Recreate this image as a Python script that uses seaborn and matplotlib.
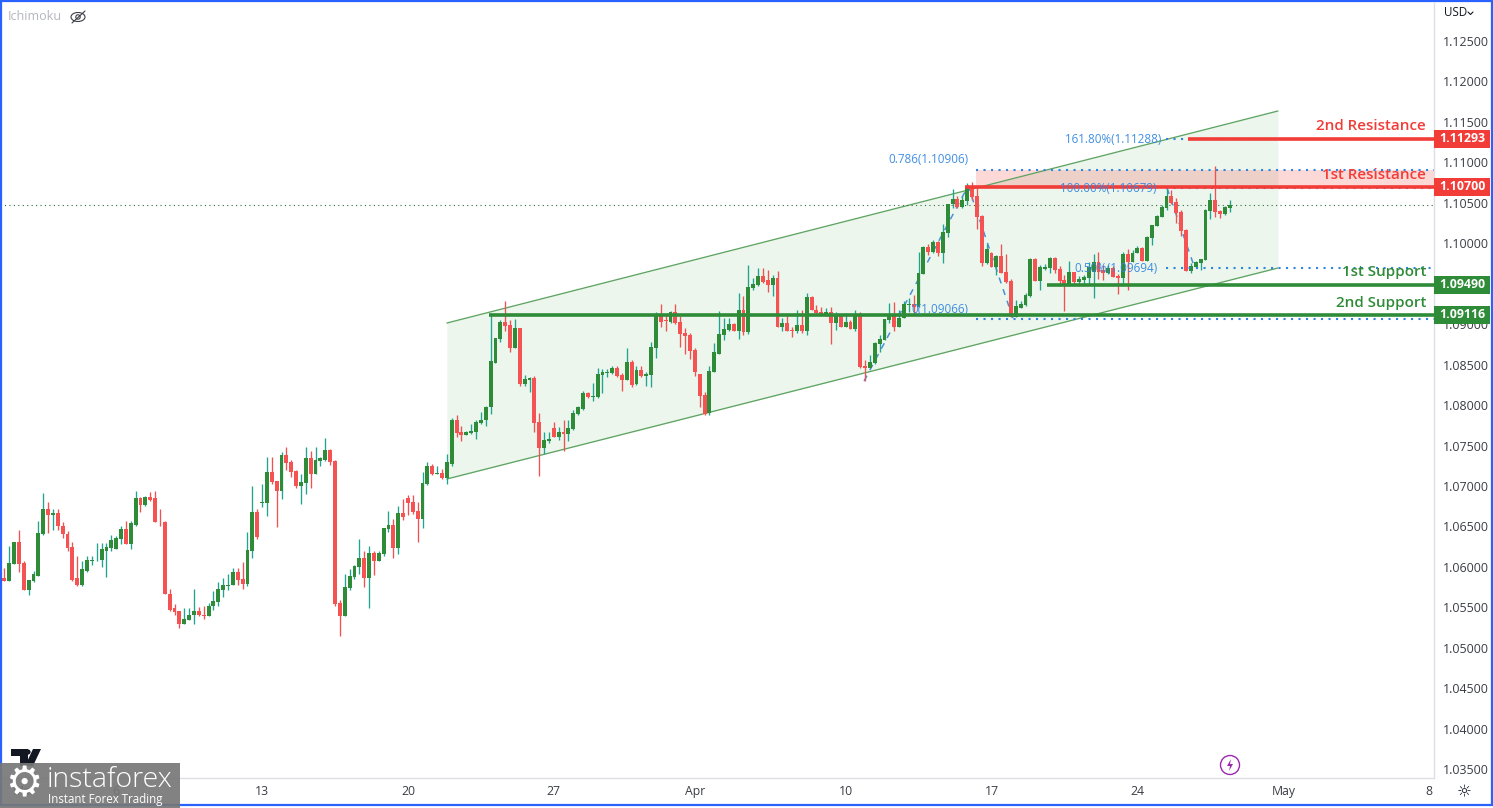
import numpy as np
import pandas as pd
import seaborn as sns
import matplotlib
matplotlib.use('Agg')
import matplotlib.pyplot as plt
from matplotlib.patches import Rectangle, Circle, Ellipse, Polygon
from matplotlib.lines import Line2D
from matplotlib.transforms import Affine2D, blended_transform_factory

# H4 candles, in pips above 1.0000
open_pips = [
    586,583,604,631,605,571,583,589,641,671,
    664,666,651,641,624,586,578,595,607,608,
    608,620,623,622,635,647,628,652,685,677,
    686,685,656,656,567,549,545,529,534,540,
    545,541,539,551,557,572,576,577,594,585,
    579,620,668,679,679,717,706,694,738,730,
    719,700,704,735,715,731,732,745,731,555,
    539,574,587,600,611,586,617,607,616,647,
    652,623,667,685,680,669,659,703,725,715,
    716,710,727,781,767,763,766,767,778,781,
    797,852,882,903,899,871,895,826,831,834,
    779,747,756,772,760,767,764,771,789,795,
    815,810,810,837,840,840,846,837,831,853,
    826,843,836,837,871,910,905,903,915,903,
    889,887,868,839,813,790,841,863,887,893,
    900,892,917,890,945,949,960,954,949,957,
    896,902,893,891,899,891,934,918,915,912,
    915,902,910,897,903,894,912,848,846,852,
    876,881,905,912,896,908,924,925,921,962,
    996,989,1002,988,1013,1048,1055,1045,1052,1070,
    1059,1034,975,988,971,984,965,953,909,920,
    924,935,981,953,968,970,982,968,955,949,
    965,952,955,957,965,977,967,963,969,960,
    957,987,977,988,994,978,1007,1021,1033,1044,
    1059,1051,1039,1016,966,971,976,979,1040,1054,
    1040,1036,1044]
high_pips = [
    598,626,631,645,607,584,595,657,691,680,
    671,672,656,644,631,614,607,614,614,629,
    629,629,639,638,650,657,657,694,686,688,
    693,694,672,657,573,554,546,549,549,573,
    550,552,555,570,581,586,591,599,598,606,
    643,700,672,703,736,736,706,742,748,732,
    720,715,748,743,748,736,759,746,732,559,
    591,597,602,634,620,626,620,620,648,669,
    659,675,684,689,689,680,717,730,727,725,
    721,739,784,788,774,768,776,782,792,799,
    912,883,905,929,905,907,895,837,835,836,
    790,767,767,779,773,782,782,794,799,818,
    816,827,846,845,845,848,848,840,871,856,
    848,848,841,878,915,925,913,916,925,910,
    895,889,871,839,816,848,877,916,908,908,
    901,938,935,973,957,970,969,967,961,966,
    908,910,896,917,917,938,935,924,921,920,
    921,915,911,914,905,917,915,856,862,878,
    887,907,926,928,917,929,932,936,989,997,
    999,1004,1003,1024,1049,1067,1059,1059,1075,1076,
    1071,1035,999,989,985,999,987,956,930,929,
    939,982,982,973,974,983,983,972,961,978,
    965,960,961,977,987,989,973,973,972,962,
    989,993,992,997,995,1009,1023,1035,1047,1067,
    1066,1056,1041,1018,976,978,981,1042,1062,1096,
    1041,1046,1054]
low_pips = [
    582,582,604,594,571,565,581,589,639,642,
    646,646,636,619,582,576,576,594,602,607,
    600,588,619,622,628,628,622,650,668,675,
    681,655,650,566,546,541,524,529,534,529,
    539,536,539,547,552,563,572,577,578,573,
    576,611,635,674,663,703,649,684,720,711,
    697,678,690,697,715,725,731,726,552,515,
    539,571,585,591,575,549,590,607,614,643,
    611,616,658,664,665,631,648,701,714,715,
    709,703,725,760,756,763,764,758,776,774,
    789,852,878,891,866,871,824,824,816,767,
    712,740,753,760,757,743,756,769,788,794,
    809,805,809,815,835,838,835,817,831,822,
    825,835,824,822,858,897,892,902,900,872,
    863,857,836,798,788,788,841,863,880,891,
    891,882,887,888,942,947,951,940,935,896,
    891,892,884,889,889,886,917,913,912,910,
    876,893,896,897,894,891,846,830,846,851,
    866,881,902,892,896,908,915,911,921,962,
    986,988,984,976,1008,1043,1044,1044,1047,1054,
    1018,972,974,971,961,963,951,909,909,920,
    923,934,953,942,967,963,963,947,916,947,
    950,947,950,948,932,956,955,962,958,937,
    950,942,977,988,978,978,998,1021,1033,1041,
    1049,1025,1009,966,963,969,967,979,1030,1033,
    1031,1035,1039]
close_pips = [
    583,605,631,604,571,584,591,642,671,664,
    666,650,640,623,584,578,597,608,609,609,
    622,624,633,636,647,628,654,685,677,686,
    683,655,655,566,547,544,529,535,541,545,
    540,539,552,558,573,577,578,594,584,579,
    621,668,637,680,717,705,694,738,728,717,
    700,705,735,715,732,734,745,730,554,539,
    575,589,601,611,586,617,607,617,648,652,
    623,667,662,679,668,659,704,725,715,716,
    710,729,781,766,763,767,768,779,782,798,
    854,883,903,898,871,895,826,832,834,778,
    747,757,758,760,767,764,772,790,797,815,
    810,811,838,841,841,846,836,831,853,825,
    843,836,838,872,910,903,904,915,902,888,
    885,867,841,811,789,842,865,888,894,900,
    892,917,890,946,950,960,952,949,957,896,
    902,892,891,899,891,934,917,914,913,915,
    902,912,897,903,894,912,847,846,853,877,
    882,907,910,896,908,925,925,921,963,996,
    989,1002,988,1014,1049,1055,1045,1054,1070,1057,
    1033,976,993,971,984,963,952,909,923,925,
    936,981,953,971,971,982,967,953,947,965,
    952,956,958,971,977,965,963,969,958,957,
    987,977,988,994,978,1008,1023,1034,1045,1059,
    1050,1037,1015,966,972,977,981,1041,1054,1039,
    1036,1045,1047]

# axis ticks
x_tick_pos = [4, 23, 53, 83, 113, 142, 173, 203, 233, 263, 293]
x_tick_labels = ['Mar', '6', '13', '20', '27', 'Apr', '10', '17', '24', 'May', '8']
y_ticks = [1.035, 1.04, 1.045, 1.05, 1.055, 1.06, 1.065, 1.07, 1.075, 1.08,
           1.085, 1.09, 1.095, 1.10, 1.105, 1.11, 1.115, 1.12, 1.125]

# rising channel
channel_x = [91.0, 261.9]
channel_upper = [1.09014, 1.11635]
channel_lower = [1.07086, 1.09694]

# levels: price, first candle index
resist_names = ['2nd Resistance', '1st Resistance']
resist_prices = [1.11293, 1.10700]
resist_start = [243.4, 197.6]
support_names = ['1st Support', '2nd Support']
support_prices = [1.09490, 1.09116]
support_start = [214.4, 99.7]

# fibonacci labels
fib_labels = ['161.80%(1.11288)', '0.786(1.10906)', '100.00%(1.10679)', '0.50%(1.09694)', '0(1.09066)']
fib_prices = [1.11288, 1.10906, 1.10679, 1.09694, 1.09066]
fib_text_y = [1.11288, 1.11041, 1.10679, 1.09694, 1.09187]
fib_text_end = [238.0, 198.2, 237.0, 237.2, 198.2]
fib_line_start = [238.9, 199.8, 238.9, 238.9, 199.8]

# dashed swing legs
swing_x = [[176.8, 198.2, 207.4], [239.1, 244.8]]
swing_y = [[1.08297, 1.10708, 1.09076], [1.10683, 1.09694]]

last_price = 1.10473

GREEN = '#2e8b37'
RED = '#f23c38'
BLUE = '#2f85e0'
W, H = 1493, 808

sns.set_theme(style='white')
plt.rcParams['font.family'] = ['Open Sans', 'DejaVu Sans']

df = pd.DataFrame({'open': open_pips, 'high': high_pips, 'low': low_pips, 'close': close_pips})
df[['open', 'high', 'low', 'close']] = 1 + df[['open', 'high', 'low', 'close']] / 10000
df['idx'] = np.arange(len(df))
df['top'] = df[['open', 'close']].max(axis=1)
df['bot'] = df[['open', 'close']].min(axis=1)
df['body'] = df['top'] - df['bot']
up = df[df['close'] >= df['open']]
down = df[df['close'] < df['open']]

fig = plt.figure(figsize=(W / 100, H / 100), dpi=100, facecolor='white')
ax = fig.add_axes([0, 1 - 778 / H, 1434 / W, 775 / H])
# pixel coordinates for the furniture of the chart
px = Affine2D().scale(1 / W, -1 / H).translate(0, 1) + fig.transFigure
xaxes = blended_transform_factory(ax.transAxes, ax.transData)

ax.fill_between(channel_x, channel_lower, channel_upper, color='#4caf50', alpha=0.105, lw=0, zorder=1)
ax.plot(channel_x, channel_upper, color='#5fa463', lw=0.95, zorder=1.2)
ax.plot(channel_x, channel_lower, color='#5fa463', lw=0.95, zorder=1.2)
ax.add_patch(Rectangle((fib_line_start[1], fib_prices[2]), 294 - fib_line_start[1],
                       fib_prices[1] - fib_prices[2], color='#f23c38', alpha=0.2, lw=0, zorder=1.1))

for xs, ys in zip(swing_x, swing_y):
    ax.plot(xs, ys, color='#4a90d9', lw=1.1, ls=(0, (4, 4)), zorder=1.3)

ax.axhline(last_price, color='#2e6b3a', lw=0.8, ls=(0, (1, 3)), zorder=1.4)

# candles
ax.vlines(up['idx'], up['low'], up['high'], color='#1fa58f', lw=0.95, zorder=2)
ax.vlines(down['idx'], down['low'], down['high'], color='#f05252', lw=0.95, zorder=2)
for part, colour in [(up, GREEN), (down, '#f55353')]:
    sns.barplot(x=part['idx'].values, y=part['body'].values, bottom=part['bot'].values,
                native_scale=True, color=colour, saturation=1, width=0.8,
                errorbar=None, linewidth=0, ax=ax, zorder=2.2)

# fib dotted lines
for price, start in zip(fib_prices, fib_line_start):
    ax.plot([start, 294], [price, price], color=BLUE, lw=1.5, ls=(0, (1, 2.6)), zorder=3)

# support / resistance
for price, start in zip(resist_prices, resist_start):
    ax.plot([start, 294], [price, price], color=RED, lw=2.6, solid_capstyle='butt', zorder=3.2)
for price, start in zip(support_prices, support_start):
    ax.plot([start, 294], [price, price], color=GREEN, lw=2.6, solid_capstyle='butt', zorder=3.2)

for label, ypos, end in zip(fib_labels, fib_text_y, fib_text_end):
    ax.text(end, ypos, label, color=BLUE, alpha=0.92, fontsize=8.4, ha='right', va='center', zorder=4)

ax.set_xlim(-0.89, 294)
ax.set_ylim(1.0339, 1.1297)
ax.set_xlabel('')
ax.set_ylabel('')
ax.set_xticks(x_tick_pos)
ax.set_xticklabels(x_tick_labels)
ax.set_yticks(y_ticks)
ax.set_yticklabels([f'{v:.5f}' for v in y_ticks])
ax.yaxis.tick_right()
ax.tick_params(axis='x', length=0, pad=5, labelsize=8.8, labelcolor='#3a3d45')
ax.tick_params(axis='y', length=0, pad=6.5, labelsize=8.9, labelcolor='#3a3d45')
sns.despine(ax=ax, top=True, left=True, right=False, bottom=False)
for side in ['right', 'bottom']:
    ax.spines[side].set_color('#dcdfe6')
    ax.spines[side].set_linewidth(1)

# level names above the lines
name_y = [126, 175, 272, 303]
for name, ypix, colour in zip(resist_names + support_names, name_y, [RED, RED, GREEN, GREEN]):
    fig.text(1426 / W, 1 - ypix / H, name, color=colour, fontsize=10.9, fontweight='semibold',
             ha='right', va='center', zorder=6)

# price tags on the axis
for price, colour in zip(resist_prices + support_prices, [RED, RED, GREEN, GREEN]):
    half = 9 / 8090
    ax.add_patch(Rectangle((1.0, price - half), 56 / 1434, 2 * half, transform=xaxes,
                           color=colour, lw=0, clip_on=False, zorder=5))
    ax.text(1462.5 / 1434, price, f'{price:.5f}', transform=xaxes, color='white', fontsize=8.9,
            fontweight='bold', ha='center', va='center', zorder=6)

# top left study name and hidden eye
fig.text(8 / W, 1 - 17 / H, 'Ichimoku', color='#b3b6be', fontsize=9, va='center')
fig.add_artist(Ellipse((78, 17), 14, 9, transform=px, fill=False, ec='#3a3d45', lw=0.8))
fig.add_artist(Circle((78, 17), 2.2, transform=px, fill=False, ec='#3a3d45', lw=0.8))
fig.add_artist(Line2D([72, 85], [23, 11], transform=px, color='#3a3d45', lw=0.8))

# currency menu
fig.text(1444 / W, 1 - 13 / H, 'USD', color='#131722', fontsize=8.4, va='center')
fig.add_artist(Line2D([1468, 1470.5, 1473], [12, 14.5, 12], transform=px, color='#131722', lw=0.8))

# lightning badge
fig.add_artist(Circle((1230, 765), 9.5, transform=px, fill=False, ec='#9c27b0', lw=1))
fig.add_artist(Polygon([(1231, 759), (1227, 766), (1230, 766), (1229, 771), (1233, 764), (1230, 764)],
                       transform=px, fc='#9c27b0', ec='none'))

# settings icon
fig.text(1464 / W, 1 - 792 / H, '\u263c', color='#131722', fontsize=12, ha='center', va='center',
         family='DejaVu Sans')

# chart frame
fig.add_artist(Rectangle((0.8, 1.2), W - 2, H - 4, transform=px, fill=False, ec='#2962ff', lw=1.6))

# tradingview logo under the watermark
fig.add_artist(Polygon([(11, 749), (28, 749), (28, 766), (20, 766), (20, 756), (11, 756)],
                       transform=px, fc='#131722', ec='none'))
fig.add_artist(Circle((28, 752), 2.6, transform=px, fc='#131722', ec='none'))
fig.add_artist(Polygon([(33, 749), (41, 749), (33, 766), (25, 766)], transform=px, fc='#131722', ec='none'))

# instaforex watermark
fig.add_artist(Rectangle((0, 763), 180, 45, transform=px, fc='#777777', ec='none', alpha=0.92, zorder=8))
fig.text(24 / W, 1 - 784 / H, '\u2699', color='white', fontsize=30, ha='center', va='center',
         family='DejaVu Sans', zorder=9)
fig.text(47 / W, 1 - 780 / H, 'instaforex', color='white', fontsize=20.5, fontweight='light',
         family='Open Sans', va='center', zorder=9)
fig.text(48 / W, 1 - 799.5 / H, 'Instant Forex Trading', color='white', fontsize=8.3,
         va='center', zorder=9)

plt.savefig('out.png', dpi=100)
